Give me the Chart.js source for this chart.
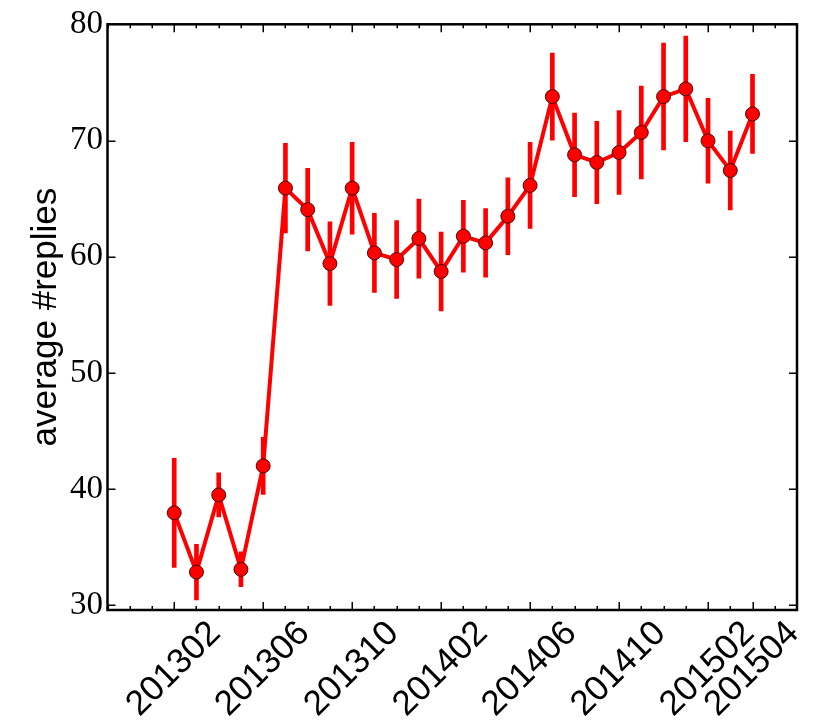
<!DOCTYPE html>
<html><head><meta charset="utf-8">
<style>html,body{margin:0;padding:0;background:#fff;}</style>
<script src="https://cdn.jsdelivr.net/npm/chart.js@4.4.1/dist/chart.umd.min.js"></script>
</head><body>
<canvas id="c" width="830" height="727" style="display:block"></canvas>
<script>
const months = ['201302','201303','201304','201305','201306','201307','201308','201309','201310','201311','201312',
  '201401','201402','201403','201404','201405','201406','201407','201408','201409','201410','201411','201412',
  '201501','201502','201503','201504'];
const means = [37.96, 32.86, 39.5, 33.1, 42.0, 65.9, 64.05, 59.41, 65.9, 60.33, 59.76, 61.56, 58.73, 61.76,
  61.19, 63.48, 66.14, 73.78, 68.77, 68.11, 68.97, 70.69, 73.78, 74.44, 69.97, 67.42, 72.29];
const errs = [4.7, 2.4, 1.9, 1.5, 2.45, 3.85, 3.55, 3.6, 3.95, 3.4, 3.35, 3.4, 3.4, 3.1, 2.95, 3.3, 3.7,
  3.75, 3.6, 3.55, 3.6, 4.0, 4.6, 4.55, 3.65, 3.4, 3.4];
const tickLabels = ['201302','201306','201310','201402','201406','201410','201502','201504'];
const yTicks = [30, 40, 50, 60, 70, 80];
const yTitle = 'average #replies';

const lineData = means.map((v, i) => ({x: i, y: v}));
const errData = means.map((v, i) => ({x: i, y: [v - errs[i], v + errs[i]]}));
const isMajor = v => tickLabels.includes(months[v]);

const framePlugin = {
  id: 'frame',
  afterDraw(chart) {
    const {ctx, chartArea: a, scales: {x, y}} = chart;
    ctx.save();
    ctx.strokeStyle = '#000';
    ctx.lineWidth = 1.5;
    ctx.beginPath();
    x.ticks.forEach(t => {
      const px = Math.round(x.getPixelForValue(t.value)) + 0.25;
      const len = isMajor(t.value) ? 8 : 4;
      ctx.moveTo(px, a.bottom); ctx.lineTo(px, a.bottom - len);
      ctx.moveTo(px, a.top); ctx.lineTo(px, a.top + len);
    });
    y.ticks.forEach(t => {
      const py = Math.round(y.getPixelForValue(t.value)) + 0.25;
      ctx.moveTo(a.left, py); ctx.lineTo(a.left + 8, py);
      ctx.moveTo(a.right, py); ctx.lineTo(a.right - 8, py);
    });
    ctx.stroke();
    ctx.lineWidth = 2.5;
    ctx.strokeRect(a.left, a.top, a.right - a.left, a.bottom - a.top);
    ctx.restore();
  }
};

new Chart(document.getElementById('c'), {
  data: {
    datasets: [
      {
        type: 'line',
        data: lineData,
        borderColor: '#ff0000',
        borderWidth: 4,
        tension: 0,
        pointRadius: 7,
        pointBackgroundColor: '#ff0000',
        pointBorderColor: 'rgba(60,0,0,0.9)',
        pointBorderWidth: 1,
        order: 0
      },
      {
        type: 'bar',
        data: errData,
        backgroundColor: '#ff0000',
        borderWidth: 0,
        barThickness: 4,
        order: 1
      }
    ]
  },
  options: {
    responsive: false,
    animation: false,
    devicePixelRatio: 1,
    layout: {padding: {top: 22.5, right: 33, left: 0, bottom: 0}},
    plugins: {legend: {display: false}, tooltip: {enabled: false}},
    scales: {
      x: {
        type: 'linear',
        min: -3, max: 28,
        offset: false,
        grid: {display: false, drawTicks: false},
        border: {display: false},
        ticks: {
          stepSize: 1,
          autoSkip: false,
          minRotation: 45, maxRotation: 45,
          labelOffset: 41,
          padding: 3,
          color: '#000',
          font: {family: 'Liberation Sans', size: 35},
          callback: v => (isMajor(v) ? months[v] : '')
        },
        afterFit: s => { s.height = 117; }
      },
      y: {
        type: 'linear',
        min: 29.6, max: 80,
        grid: {display: false, drawTicks: false},
        border: {display: false},
        afterBuildTicks: s => { s.ticks = yTicks.map(v => ({value: v})); },
        ticks: {
          padding: 4.5,
          color: '#000',
          font: {family: 'Liberation Serif', size: 33}
        },
        title: {
          display: true,
          text: yTitle,
          color: '#000',
          font: {family: 'Liberation Sans', size: 35},
          padding: {top: 25, bottom: 0}
        },
        afterFit: s => { s.width = 107.5; }
      }
    }
  },
  plugins: [framePlugin]
});
</script>
</body></html>
